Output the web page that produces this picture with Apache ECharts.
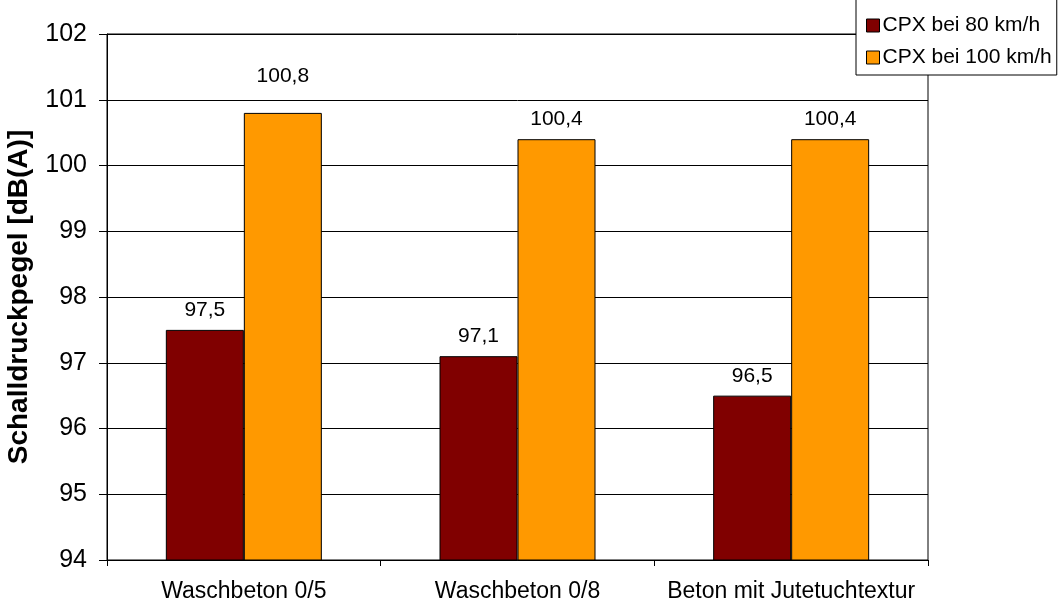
<!DOCTYPE html>
<html>
<head>
	<meta charset="utf-8">
	<title>CPX Schalldruckpegel</title>
	<style type="text/css">
		html, body { margin: 0; padding: 0; background: #fff; }
		#chart { width: 1061px; height: 607px; }
	</style>
</head>
<body>
	<div id="chart"></div>
	<script src="https://cdn.jsdelivr.net/npm/echarts@6/dist/echarts.min.js"></script>
	<script type="text/javascript">
	const CATEGORIES = ['Waschbeton 0/5', 'Waschbeton 0/8', 'Beton mit Jutetuchtextur'];
	const CPX_80 = [97.5, 97.1, 96.5];
	const CPX_100 = [100.8, 100.4, 100.4];
	const Y_TICKS = [94, 95, 96, 97, 98, 99, 100, 101, 102];

	const FONT = 'Liberation Sans, Arial, sans-serif';

	function fmt(v) {
		return String(v).replace('.', ',');
	}

	var myChart = echarts.init(document.getElementById('chart'));

	var labelStyle = {
		show: true, position: 'top', distance: 9,
		fontSize: 21, color: '#000',
		formatter: p => fmt(p.value)
	};

	var option = {
		animation: false,
		textStyle: { fontFamily: FONT },
		grid: {
			left: 107, right: 133, top: 34, bottom: 47,
			containLabel: false,
			outerBoundsMode: 'none',
			show: true, borderColor: '#000', borderWidth: 1
		},
		legend: {
			orient: 'vertical',
			left: 856, top: -1,
			padding: [16, 5, 7, 10],
			itemGap: 11,
			itemWidth: 13, itemHeight: 13,
			icon: 'rect',
			itemStyle: { borderColor: '#000', borderWidth: 1 },
			borderColor: '#000', borderWidth: 1,
			backgroundColor: '#fff',
			textStyle: { fontFamily: FONT, fontSize: 21, lineHeight: 21, color: '#000', padding: [0, 0, 0, -2] },
			data: ['CPX bei 80 km/h', 'CPX bei 100 km/h']
		},
		xAxis: {
			type: 'category',
			data: CATEGORIES,
			axisLine: { lineStyle: { color: '#000' } },
			axisTick: { show: true, length: 6, lineStyle: { color: '#000' } },
			axisLabel: { interval: 0, fontSize: 23, color: '#000', margin: 20 }
		},
		yAxis: {
			type: 'value',
			min: Y_TICKS[0], max: Y_TICKS[Y_TICKS.length - 1], interval: 1,
			name: 'Schalldruckpegel [dB(A)]',
			nameLocation: 'middle',
			nameGap: 74,
			nameTextStyle: { fontSize: 28, fontWeight: 'bold', color: '#000' },
			axisLine: { show: true, lineStyle: { color: '#000' } },
			axisTick: { show: true, length: 8, lineStyle: { color: '#000' } },
			axisLabel: { fontSize: 25, color: '#000', margin: 20 },
			splitLine: { lineStyle: { color: '#000', width: 1 } }
		},
		series: [
			{
				name: 'CPX bei 80 km/h',
				type: 'bar',
				data: CPX_80,
				barWidth: 78,
				barGap: '0%',
				itemStyle: { color: '#800000', borderColor: '#000', borderWidth: 1 },
				label: labelStyle
			},
			{
				name: 'CPX bei 100 km/h',
				type: 'bar',
				// first label sits higher in the original
				data: CPX_100.map((v, i) => i === 0 ? { value: v, label: { distance: 26 } } : v),
				barWidth: 78,
				barGap: '0%',
				itemStyle: { color: '#FF9900', borderColor: '#000', borderWidth: 1 },
				label: labelStyle
			}
		]
	};

	myChart.setOption(option);
	</script>
</body>
</html>
